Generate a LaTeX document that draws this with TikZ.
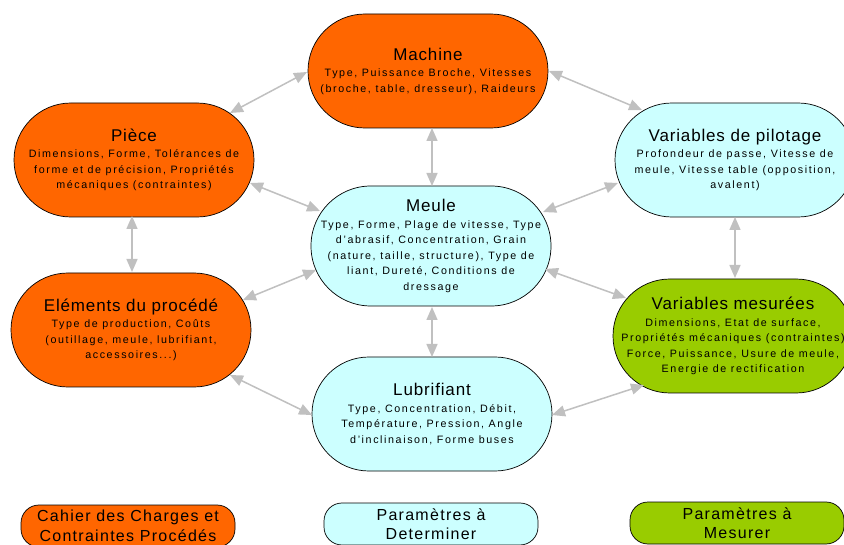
\documentclass[tikz,border=0pt]{standalone}
\usepackage{fontspec}
\setmainfont{Liberation Sans}
\newfontfamily\bodyf[LetterSpace=15]{Liberation Sans}
\newfontfamily\titlef[LetterSpace=5]{Liberation Sans}
\newfontfamily\legf[LetterSpace=8]{Liberation Sans}
\usetikzlibrary{arrows.meta,calc}
\definecolor{orng}{HTML}{FF6600}
\definecolor{cyn}{HTML}{CCFFFF}
\definecolor{grn}{HTML}{99CC00}
\definecolor{arrgray}{HTML}{C0C0C0}
\tikzset{
  pill/.style={draw=black, line width=0.7pt, rounded corners=56.9pt,
    minimum width=240pt, minimum height=114pt, inner sep=0pt, align=center,
    font=\bodyf\fontsize{10.7}{15.5}\selectfont},
  legendbox/.style={draw=black, line width=0.7pt, rounded corners=18pt,
    minimum width=214pt, minimum height=42pt, inner sep=0pt, align=center,
    font=\legf\fontsize{16}{19.5}\selectfont},
  link/.style={draw=arrgray, line width=1.5pt,
    {Triangle[length=13pt,width=11pt]}-{Triangle[length=13pt,width=11pt]}},
}
\newcommand{\ttl}[1]{{\titlef\fontsize{17}{20}\selectfont #1}\\[1pt]}
\begin{document}
\begin{tikzpicture}[x=1pt,y=-1pt]
\useasboundingbox (0,0) rectangle (844,545);
\clip (0,0) rectangle (844,545);
\fill[white] (0,0) rectangle (844,545);
% main nodes
\node[pill, fill=orng] (mach) at (428,71)
  {\ttl{Machine}Type, Puissance Broche, Vitesses\\(broche, table, dresseur), Raideurs};
\node[pill, fill=orng] (piece) at (134,160)
  {\ttl{Pièce}Dimensions, Forme, Tolérances de\\forme et de précision, Propriétés\\mécaniques (contraintes)};
\node[pill, fill=cyn] (pilot) at (735,160)
  {\ttl{Variables de pilotage}Profondeur de passe, Vitesse de\\meule, Vitesse table (opposition,\\avalent)};
\node[pill, fill=cyn, minimum height=120pt, rounded corners=59.9pt] (meule) at (431,246)
  {\ttl{Meule}Type, Forme, Plage de vitesse, Type\\d’abrasif, Concentration, Grain\\(nature, taille, structure), Type de\\liant, Dureté, Conditions de\\dressage};
\node[pill, fill=orng] (elem) at (131,330)
  {\ttl{Eléments du procédé}Type de production, Coûts\\(outillage, meule, lubrifiant,\\accessoires...)};
\node[pill, fill=grn] (mesur) at (733,336)
  {\ttl{Variables mesurées}Dimensions, Etat de surface,\\Propriétés mécaniques (contraintes)\\Force, Puissance, Usure de meule,\\Energie de rectification};
\node[pill, fill=cyn] (lubri) at (432,414)
  {\ttl{Lubrifiant}Type, Concentration, Débit,\\Température, Pression, Angle\\d’inclinaison, Forme buses};
% legend
\node[legendbox, fill=orng] (legA) at (128,526) {Cahier des Charges et\\Contraintes Procédés};
\node[legendbox, fill=cyn] (legB) at (431,524) {Paramètres à\\Determiner};
\node[legendbox, fill=grn] (legC) at (737,523) {Paramètres à\\Mesurer};
% connectors
\draw[link] ($(piece)+(96,-47)$) -- ($(mach)+(-121,1)$);
\draw[link] ($(mach)+(121,0)$) -- ($(pilot)+(-93,-50)$);
\draw[link] ($(mach)+(4,57)$) -- ($(meule)+(1,-60)$);
\draw[link] ($(piece)+(116,23)$) -- ($(meule)+(-111,-35)$);
\draw[link] ($(piece)+(-2,56)$) -- ($(elem)+(1,-58)$);
\draw[link] ($(meule)+(112,-34)$) -- ($(pilot)+(-117,23)$);
\draw[link] ($(meule)+(-115,24)$) -- ($(elem)+(112,-30)$);
\draw[link] ($(meule)+(114,23)$) -- ($(mesur)+(-107,-38)$);
\draw[link] ($(meule)+(1,61)$) -- ($(lubri)+(0,-57)$);
\draw[link] ($(elem)+(99,45)$) -- ($(lubri)+(-120,1)$);
\draw[link] ($(lubri)+(120,1)$) -- ($(mesur)+(-89,49)$);
\draw[link] ($(pilot)+(0,57)$) -- ($(mesur)+(2,-58)$);
\end{tikzpicture}
\end{document}
